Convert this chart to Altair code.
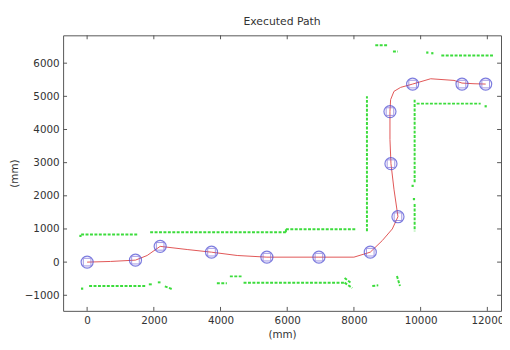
import altair as alt
import pandas as pd

# ---- data ----
# waypoints (blue circles)
way_x = [0, 1450, 2190, 3730, 5390, 6950, 8490, 9320, 9110, 9080, 9760, 11240, 11950]
way_y = [0, 60, 475, 300, 150, 150, 300, 1370, 2970, 4540, 5370, 5370, 5370]

# executed path (red line)
path_x = [0, 700, 1450, 1800, 2190, 3000, 3730, 4500, 5390, 6950, 8000, 8490, 8850, 9150, 9320,
          9200, 9110, 9080, 9080, 9100, 9200, 9400, 9760, 10300, 11000, 11240, 11600, 11950]
path_y = [0, 20, 60, 200, 475, 380, 300, 200, 150, 150, 150, 300, 650, 1000, 1370,
          2200, 2970, 3700, 4540, 4900, 5150, 5270, 5370, 5530, 5480, 5400, 5380, 5370]

# sensed walls (green dashed segments)
wall_x1 = [60, 1850, 2120, 2330, -180, 1890, 5960, 5960, 8390, 9820, 9820, 9880, 10620, 8640, 9170,
           3890, 4280, 4690, 7720, 7720, 8550, 9290]
wall_y1 = [-720, -670, -610, -730, 830, 900, 900, 990, 930, 4900, 1750, 4780, 6230, 6540, 6350,
           -640, -430, -620, -480, -620, -720, -420]
wall_x2 = [1780, 1950, 2200, 2560, 1530, 5960, 5960, 8080, 8390, 9820, 9820, 11800, 12190, 9020, 9320,
           4190, 4630, 7720, 7900, 7950, 8730, 9380]
wall_y2 = [-720, -670, -610, -820, 830, 900, 990, 990, 5000, 2400, 930, 4780, 6230, 6540, 6350,
           -640, -430, -620, -620, -780, -700, -720]
dot_x = [-150, -200, 10200, 10350, 9760, 9800, 11950]
dot_y = [-800, 790, 6320, 6300, 2300, 1900, 4700]

x_ticks = [0, 2000, 4000, 6000, 8000, 10000, 12000]
y_ticks = [-1000, 0, 1000, 2000, 3000, 4000, 5000, 6000]

xdom = [-720, 12410]
ydom = [-1470, 6840]
W, H = 445, 280

xs = alt.Scale(domain=xdom, nice=False, zero=False)
ys = alt.Scale(domain=ydom, nice=False, zero=False)
xax = alt.Axis(values=x_ticks, title="(mm)", grid=False, format="d")
yax = alt.Axis(values=y_ticks, title="(mm)", grid=False, format="d")


def X(f):
    return alt.X(f"{f}:Q", scale=xs, axis=xax)


def Y(f):
    return alt.Y(f"{f}:Q", scale=ys, axis=yax)


way = pd.DataFrame({"x": way_x, "y": way_y})
path = pd.DataFrame({"x": path_x, "y": path_y, "o": list(range(len(path_x)))})
walls = pd.DataFrame({"x": wall_x1, "y": wall_y1, "x2": wall_x2, "y2": wall_y2})
dots = pd.DataFrame({"x": dot_x, "y": dot_y})
xt = pd.DataFrame({"x": x_ticks})
yt = pd.DataFrame({"y": y_ticks})

GREEN = "#3cdc3c"

wall_layer = alt.Chart(walls).mark_rule(color=GREEN, strokeWidth=2, strokeDash=[3, 1.5]).encode(
    x=X("x"), y=Y("y"), x2="x2:Q", y2="y2:Q",
)
dot_layer = alt.Chart(dots).mark_square(color=GREEN, size=5, opacity=1).encode(x=X("x"), y=Y("y"))
path_layer = alt.Chart(path).mark_line(color="#e05555", strokeWidth=1).encode(
    x=X("x"), y=Y("y"), order="o:Q"
)
circ_layer = alt.Chart(way).mark_point(shape="circle", size=150, color="#4646d2", strokeWidth=1.2, filled=False).encode(
    x=X("x"), y=Y("y")
)
sq_layer = alt.Chart(way).mark_point(shape="square", size=60, color="#7a6ad8", strokeWidth=1, filled=False).encode(
    x=X("x"), y=Y("y")
)

TC = "#555555"
xb = alt.Chart(xt).mark_rule(color=TC).encode(x=X("x"), y=alt.value(H), y2=alt.value(H - 4))
xtop = alt.Chart(xt).mark_rule(color=TC).encode(x=X("x"), y=alt.value(0), y2=alt.value(4))
yl = alt.Chart(yt).mark_rule(color=TC).encode(y=Y("y"), x=alt.value(0), x2=alt.value(4))
yr = alt.Chart(yt).mark_rule(color=TC).encode(y=Y("y"), x=alt.value(W), x2=alt.value(W - 4))

chart = alt.layer(wall_layer, dot_layer, path_layer, sq_layer, circ_layer, xb, xtop, yl, yr).properties(
    width=W, height=H,
    title=alt.TitleParams("Executed Path", fontSize=11, fontWeight="normal", color="#333333",
                          font="DejaVu Sans", offset=8),
    autosize=alt.AutoSizeParams(type="none"),
    padding={"left": 56, "top": 25, "right": 1, "bottom": 37},
).configure_view(stroke="#555555", strokeWidth=1).configure_axis(
    domain=False, ticks=False, labelFont="DejaVu Sans", labelFontSize=10.5, labelColor="#333333",
    titleFont="DejaVu Sans", titleFontSize=10.5, titleFontWeight="normal", titleColor="#333333",
).configure_axisX(labelPadding=5, titlePadding=4).configure_axisY(labelPadding=4, titlePadding=5)

chart.save("out.html", embed_options={"renderer": "svg", "actions": False})
